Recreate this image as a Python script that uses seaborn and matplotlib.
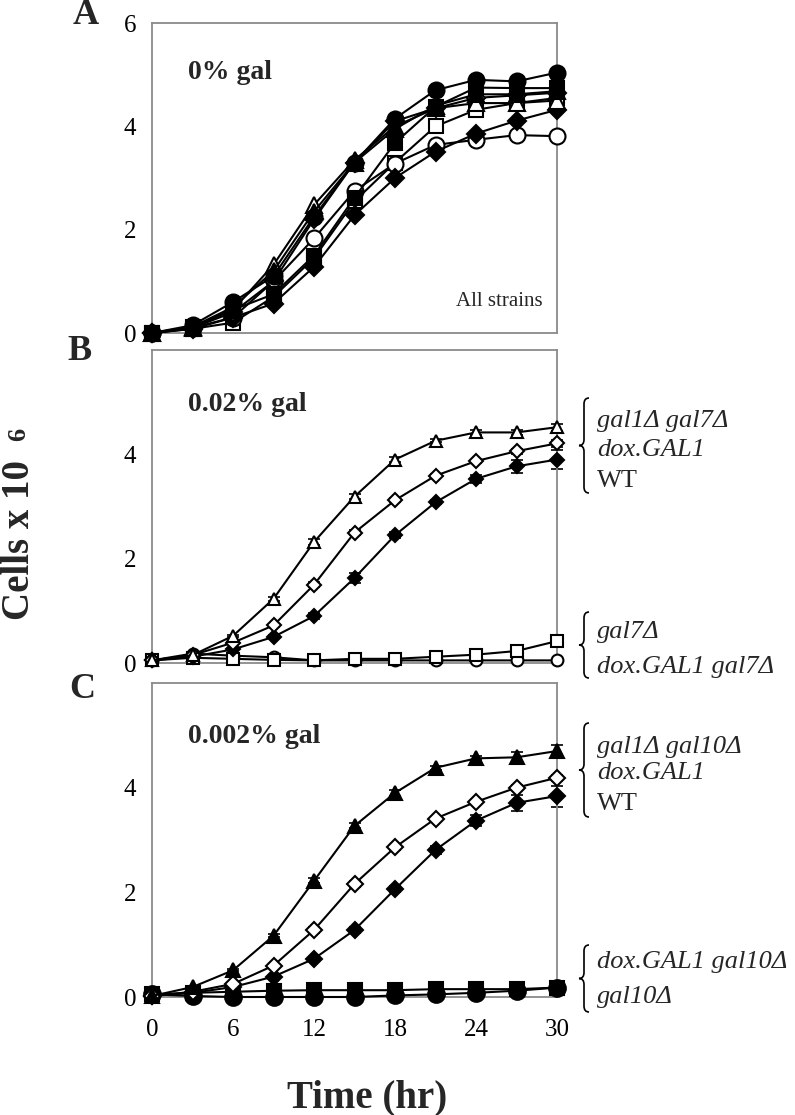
import matplotlib
matplotlib.use("Agg")
import pandas as pd
import matplotlib.pyplot as plt
from matplotlib.path import Path
from matplotlib.patches import PathPatch
import seaborn as sns

# Growth curves of yeast strains at three galactose levels
hours = [0, 3, 6, 9, 12, 15, 18, 21, 24, 27, 30]
x_tick_labels = ["0", "", "6", "", "12", "", "18", "", "24", "", "30"]

# Panel A: 0% gal, all strains
a_g10 = [0.0, 0.15, 0.6, 1.1, 2.25, 3.3, 4.15, 4.7, 4.9, 4.87, 5.04]
a_doxg10 = [0.0, 0.12, 0.45, 0.75, 1.5, 2.62, 3.68, 4.38, 4.75, 4.74, 4.74]
a_g1g10 = [0.0, 0.12, 0.5, 1.2, 2.35, 3.3, 3.95, 4.4, 4.62, 4.62, 4.68]
a_g1g7 = [0.0, 0.1, 0.45, 1.32, 2.48, 3.35, 4.0, 4.35, 4.45, 4.45, 4.5]
a_dox = [0.0, 0.1, 0.4, 1.0, 2.2, 3.3, 4.1, 4.35, 4.55, 4.6, 4.65]
a_g7 = [0.0, 0.08, 0.2, 0.7, 1.45, 2.55, 3.3, 4.0, 4.32, 4.45, 4.55]
a_doxg7 = [0.0, 0.1, 0.3, 1.0, 1.83, 2.75, 3.28, 3.64, 3.74, 3.83, 3.81]
a_wt = [0.0, 0.08, 0.3, 0.57, 1.28, 2.28, 3.0, 3.51, 3.86, 4.11, 4.32]

# Panel B: 0.02% gal
b_g1g7 = [0.05, 0.15, 0.52, 1.23, 2.32, 3.19, 3.9, 4.26, 4.42, 4.42, 4.52]
b_g1g7_err = [0, 0, 0.02, 0.04, 0.05, 0.05, 0.05, 0.03, 0.05, 0.05, 0.07]
b_dox = [0.05, 0.15, 0.39, 0.72, 1.5, 2.5, 3.12, 3.59, 3.87, 4.06, 4.21]
b_dox_err = [0, 0, 0.02, 0.03, 0.05, 0.05, 0.04, 0.03, 0.03, 0.05, 0.07]
b_wt = [0.05, 0.12, 0.26, 0.5, 0.9, 1.63, 2.45, 3.08, 3.53, 3.77, 3.9]
b_wt_err = [0, 0, 0.02, 0.03, 0.05, 0.1, 0.06, 0.04, 0.08, 0.12, 0.18]
b_g7 = [0.05, 0.1, 0.08, 0.06, 0.05, 0.08, 0.08, 0.12, 0.16, 0.23, 0.42]
b_g7_err = [0, 0, 0, 0, 0.02, 0.04, 0.04, 0.03, 0.03, 0.05, 0.12]
b_doxg7 = [0.05, 0.18, 0.14, 0.11, 0.05, 0.05, 0.05, 0.05, 0.05, 0.05, 0.05]
b_doxg7_err = [0, 0, 0, 0, 0, 0.02, 0.02, 0.02, 0.02, 0.02, 0.02]

# Panel C: 0.002% gal
c_g1g10 = [0.02, 0.19, 0.51, 1.17, 2.22, 3.27, 3.9, 4.38, 4.56, 4.58, 4.7]
c_g1g10_err = [0, 0, 0.02, 0.03, 0.05, 0.05, 0.05, 0.04, 0.04, 0.1, 0.12]
c_dox = [0.02, 0.1, 0.25, 0.6, 1.28, 2.16, 2.86, 3.41, 3.73, 4.0, 4.19]
c_dox_err = [0, 0, 0.02, 0.03, 0.05, 0.05, 0.05, 0.03, 0.03, 0.05, 0.06]
c_wt = [0.02, 0.08, 0.19, 0.39, 0.73, 1.28, 2.06, 2.81, 3.37, 3.71, 3.84]
c_wt_err = [0, 0, 0.02, 0.03, 0.04, 0.05, 0.06, 0.08, 0.1, 0.15, 0.2]
c_doxg10 = [0.05, 0.08, 0.1, 0.12, 0.13, 0.13, 0.13, 0.15, 0.15, 0.15, 0.18]
c_g10 = [0.05, 0.02, 0.0, 0.0, 0.0, 0.0, 0.03, 0.05, 0.08, 0.12, 0.18]

# marker and fill per strain
styles = {
    "gal10": ("o", True), "doxg10": ("s", True), "g1g10": ("^", True),
    "g1g7": ("^", False), "dox": ("D", False), "g7": ("s", False),
    "doxg7": ("o", False), "wt": ("D", True),
}

panels = {
    "A": [("g7", a_g7, None), ("doxg7", a_doxg7, None), ("wt", a_wt, None),
          ("dox", a_dox, None), ("g1g7", a_g1g7, None), ("g1g10", a_g1g10, None),
          ("doxg10", a_doxg10, None), ("gal10", a_g10, None)],
    "B": [("doxg7", b_doxg7, b_doxg7_err), ("g7", b_g7, b_g7_err),
          ("wt", b_wt, b_wt_err), ("dox", b_dox, b_dox_err),
          ("g1g7", b_g1g7, b_g1g7_err)],
    "C": [("gal10", c_g10, None), ("doxg10", c_doxg10, None),
          ("wt", c_wt, c_wt_err), ("dox", c_dox, c_dox_err),
          ("g1g10", c_g1g10, c_g1g10_err)],
}
msize = {"A": {"o": 11.5, "s": 10, "^": 11, "D": 9},
         "B": {"o": 8.5, "s": 8.5, "^": 9, "D": 7},
         "C": {"o": 12, "s": 10, "^": 10, "D": 8}}

sns.set_theme(style="white")
plt.rcParams["font.family"] = ["Liberation Serif", "DejaVu Serif"]

W, H = 795, 1115
fig = plt.figure(figsize=(W / 100, H / 100), dpi=100)
boxes = {"A": (23, 333), "B": (350, 663), "C": (683, 997)}
axes = {}
for key, (top, bot) in boxes.items():
    axes[key] = fig.add_axes([152 / W, 1 - bot / H, 405 / W, (bot - top) / H])

for key, ax in axes.items():
    for name, vals, err in panels[key]:
        m, filled = styles[name]
        df = pd.DataFrame({"hour": hours, "cells": vals})
        if err is not None:
            ax.errorbar(hours, vals, yerr=err, fmt="none", ecolor="black",
                        elinewidth=1.2, capsize=4, capthick=1.2, zorder=2,
                        clip_on=False)
        sns.lineplot(data=df, x="hour", y="cells", ax=ax, color="black",
                     lw=1.5, marker=m, ms=msize[key][m],
                     mfc="black" if filled else "white", mec="black",
                     mew=1.5, legend=False, zorder=3, clip_on=False)
    ax.set_xlim(0, 30)
    ax.set_ylim(0, 6)
    ax.set_xticks(hours)
    ax.set_yticks([0, 2, 4, 6] if key == "A" else [0, 2, 4])
    if key == "C":
        ax.set_xticklabels(x_tick_labels)
    else:
        ax.set_xticklabels([])
    ax.set_xlabel("")
    ax.set_ylabel("")
    for sp in ax.spines.values():
        sp.set_color("#8a8a8a")
        sp.set_linewidth(1.3)
        sp.set_visible(True)
    ax.tick_params(axis="y", direction="out", length=5.5, width=1.0,
                   color="#8a8a8a", labelsize=18, pad=6, labelcolor="black")
    ax.tick_params(axis="x", direction="out", length=5.5, width=1.0,
                   color="#8a8a8a", labelsize=18, pad=10, labelcolor="black")
    ax.set_facecolor("white")

axes["A"].text(0.09, 0.84, "0% gal", transform=axes["A"].transAxes,
               fontsize=20, fontweight="bold", va="center")
axes["A"].text(0.965, 0.1, "All strains", transform=axes["A"].transAxes,
               fontsize=15, ha="right", va="center")
axes["B"].text(0.09, 0.825, "0.02% gal", transform=axes["B"].transAxes,
               fontsize=20, fontweight="bold", va="center")
axes["C"].text(0.09, 0.83, "0.002% gal", transform=axes["C"].transAxes,
               fontsize=20, fontweight="bold", va="center")

# panel letters
for lab, (px, py) in {"A": (86, 16), "B": (80, 351), "C": (82, 689)}.items():
    fig.text(px / W, 1 - py / H, lab, fontsize=26, fontweight="bold",
             ha="center", va="center")

fig.text(20 / W, 1 - 540 / H, "Cells x 10", rotation=90, fontsize=28,
         fontweight="bold", ha="center", va="center")
fig.text(19 / W, 1 - 434 / H, "6", rotation=90, fontsize=19,
         fontweight="bold", ha="center", va="center")
fig.text(367 / W, 1 - 1107 / H, "Time (hr)", fontsize=28,
         fontweight="bold", ha="center", va="baseline")


def brace(y_top, y_bot, x=584, w=5, r=6):
    ym = (y_top + y_bot) / 2
    pts = [(x + w, y_top), (x, y_top), (x, y_top + r), (x, ym - r),
           (x, ym), (x - w, ym), (x, ym), (x, ym + r), (x, y_bot - r),
           (x, y_bot), (x + w, y_bot)]
    codes = [Path.MOVETO, Path.CURVE3, Path.CURVE3, Path.LINETO,
             Path.CURVE3, Path.CURVE3, Path.CURVE3, Path.CURVE3,
             Path.LINETO, Path.CURVE3, Path.CURVE3]
    verts = [(px / W, 1 - py / H) for px, py in pts]
    fig.add_artist(PathPatch(Path(verts, codes), transform=fig.transFigure,
                             fill=False, lw=1.2, color="black"))


groups = [
    ((398, 493), [("gal1Δ gal7Δ", 427, True), ("dox.GAL1", 456, True), ("WT", 487, False)]),
    ((612, 678), [("gal7Δ", 638, True), ("dox.GAL1 gal7Δ", 673, True)]),
    ((723, 817), [("gal1Δ gal10Δ", 753, True), ("dox.GAL1", 779, True), ("WT", 810, False)]),
    ((945, 1012), [("dox.GAL1 gal10Δ", 968, True), ("gal10Δ", 1003, True)]),
]
for (yt, yb), lines in groups:
    brace(yt, yb)
    for txt, yb_, it in lines:
        fig.text(597 / W, 1 - yb_ / H, txt, fontsize=19,
                 style="italic" if it else "normal", va="baseline")

fig.savefig("out.png", dpi=100)
